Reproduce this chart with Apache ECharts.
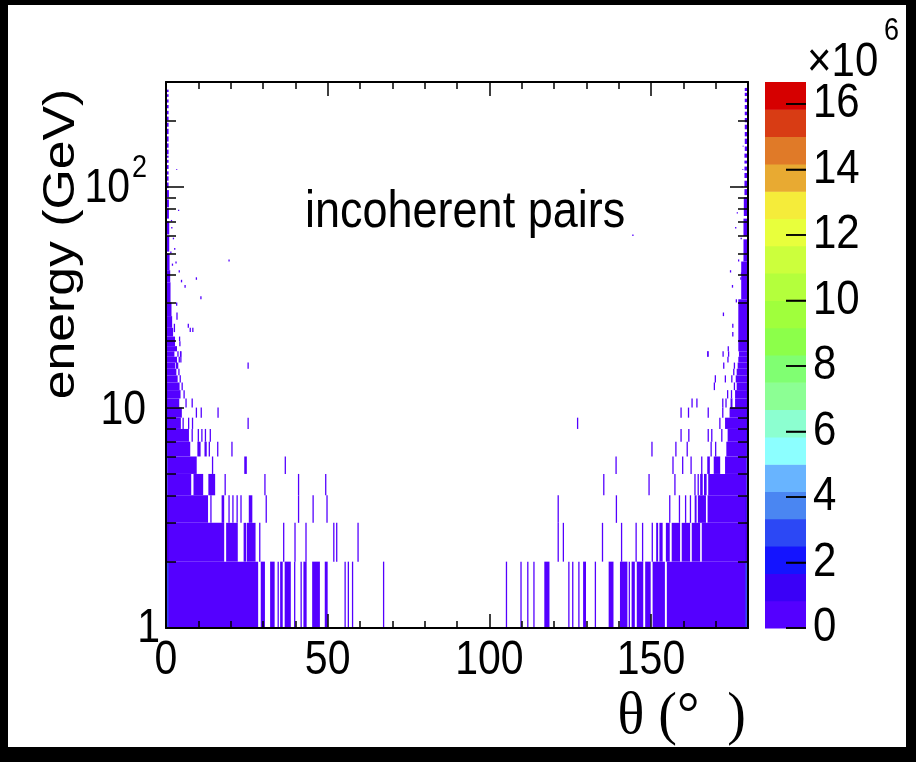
<!DOCTYPE html>
<html><head><meta charset="utf-8">
<script src="https://cdn.jsdelivr.net/npm/echarts@6/dist/echarts.min.js"></script>
<style>html,body{margin:0;padding:0;background:#000;} #c{width:916px;height:762px;}</style>
</head><body><div id="c"></div>
<script>
// ---------------- data ----------------
const thetaBin = 0.4;          // width of one θ bin (deg)
const lowCount = 4e5;          // count of an ordinary populated cell (lowest colour class)
const zMax = 16.67e6;          // top of the colour scale
const nLevels = 20;
const paletteColors = ['#5400ff','#3a00f7','#1414ff','#2c48f5','#4a86f2','#68b4ff','#8cffff','#8cffd0','#8cff94','#80ff72',
                       '#8cff4a','#a0ff3c','#b4ff3c','#ccff3c','#e8ff3c','#f5ec3a','#e8aa32','#e07a28','#d83c14','#d60000'];
const xMajorTicks = [0, 50, 100, 150];
const xMinorTicks = [10,20,30,40,60,70,80,90,110,120,130,140,160,170];
const yMajorTicks = [1, 10, 100];
const yMinorTicks = [2,3,4,5,6,7,8,9,20,30,40,50,60,70,80,90,200];
const zTicks = [0, 2, 4, 6, 8, 10, 12, 14, 16];   // ×10^6

// filled runs: [θ0, θ1, E0, E1]
const leftBlocks = [
 [0,28.5,1,2],[29.3,30.6,1,2],[32.2,33.6,1,2],[35.3,36.1,1,2],[36.7,38.6,1,2],[42.5,43.5,1,2],[45.2,47.6,1,2],[49.1,50.0,1,2],
 [0,18.0,2,3],[18.6,22.2,2,3],[24.0,24.8,2,3],[25.0,27.7,2,3],
 [0,13.0,3,4],[17.2,18.0,3,4],[25.6,26.7,3,4],
 [0,7.8,4,5],[8.5,11.5,4,5],[13.1,15.2,4,5],
 [0,9.5,5,6],[24.2,25.0,5,6],
 [0,7.5,6,7],[9.7,10.7,6,7],[11.9,12.6,6,7],
 [0,7.1,7,8],[0,4.6,8,9],[0,4.9,9,10],[0,4.1,10,11],[0,4.5,11,12],[0,4.2,12,13],[0,3.6,13,14],
 [0,3.2,14,15],[0,2.8,15,16],[0,3.2,16,17],[0,2.6,17,18],[0,3.4,18,19],[0,2.8,19,21],[0,2.2,21,23],
 [0,1.9,23,26],[0,1.7,26,30],[0,1.4,30,37],[0,1.3,37,42],[0,1.1,42,50],[0,1.0,51,60],[0,1.0,61,70],[0,0.9,72,80],
 [0,0.9,81,88],[0,0.9,90,97],[0,0.8,99,105],[0,0.8,107,112],[0,0.8,114,118],[0,0.8,121,126],[0,0.8,129,133],[0,0.8,136,139],
 [0,0.8,141,148],[0,0.8,151,158],[0,0.8,161,170],[0,0.8,174,184],[0,0.8,188,196],[0,0.8,201,209],[0,0.8,214,222],
 [0,0.8,228,236],[0,0.8,242,250],[0,0.8,257,264],[0,0.8,270,277]
];
// single-bin lines: [θ, E0, E1]
const leftLines = [
 [34.5,1,2],[39.6,1,2],[41.6,1,2],[55.2,1,2],[56.2,1,2],[57.5,1,2],[67.1,1,2],
 [28.8,2,3],[36.2,2,3],[39.7,2,3],[43.1,2,3],[51.7,2,3],[52.6,2,3],[59.2,2,3],
 [13.7,3,4],[19.3,3,4],[20.5,3,4],[21.8,3,4],[23.0,3,4],[30.8,3,4],[40.8,3,4],[45.3,3,4],[49.6,3,4],
 [18.1,4,5],[30.4,4,5],[40.8,4,5],[49.2,4,5],
 [14.2,5,6],[36.7,5,6],
 [13.2,6,7],[15.8,6,7],[20.2,6,7],
 [7.9,7,8],[9.8,7,8],[10.9,7,8],[12.0,7,8],[13.5,7,8],
 [5.1,8,9],[6.8,8,9],[8.0,8,9],[25.2,8,9],
 [9.2,9,10],[10.7,9,10],[15.9,9,10],
 [6.0,10,11],[7.9,10,11],[5.4,11,12],[4.8,12,13],[4.2,13,14],[3.8,14,15],[3.4,15,16],[25.2,15,16],
 [3.9,16,17],[3.5,17,18],[4.3,17,18],
 [3.1,120,121],[3.7,78,79],[1.6,65,66],[2.1,58,59],[2.5,52,53],[2.9,45,46],[19.3,46,47],[3.9,41,42],
 [9.2,38,39],[4.6,37,38],[5.7,35,36],[10.6,31,32],[3.1,29,30],[3.2,25,27],[6.7,23,24],[7.3,22,23],
 [8.1,22,23],[2.4,22,24],[4.0,20,21],[4.1,19,20],[4.4,16,18],[3.0,15,17],[1.3,50,51],[1.8,44,45],[1.5,70,71]
];
const rightBlocks = [
 [117.0,118.6,1,2],[129.0,129.9,1,2],[136.9,138.4,1,2],[140.4,142.7,1,2],[144.0,145.0,1,2],[145.6,147.6,1,2],
 [148.2,149.9,1,2],[150.5,154.3,1,2],[154.9,180,1,2],
 [151.6,152.2,2,3],[152.6,153.6,2,3],[154.6,155.8,2,3],[156.4,159.0,2,3],[159.5,162.1,2,3],[162.6,165.2,2,3],[165.7,180,2,3],
 [163.5,164.1,3,4],[164.5,167.0,3,4],[167.5,180,3,4],
 [165.2,166.0,4,5],[166.4,167.2,4,5],[167.7,180,4,5],
 [167.4,168.2,5,6],[169.4,171.4,5,6],[172.9,180,5,6],
 [173.3,180,6,7],[173.7,180,7,8],[172.9,180,8,9],[174.3,180,9,10],[174.6,175.2,10,11],[176.0,180,10,11],
 [176.0,180,11,12],[176.5,180,12,13],[176.2,180,13,14],[176.5,180,14,15],[176.8,180,15,16],[177.0,180,16,17],
 [177.2,180,17,18],[177.0,180,18,31],[177.9,180,31,46],[178.6,180,46,58],[178.6,180,60,72],[178.7,180,74,90],
 [178.9,180,92,98],[178.9,180,100,107],[178.9,180,110,116],[178.9,180,119,124],[178.9,180,128,132],[178.9,180,136,142],
 [179.0,180,146,153],[179.0,180,157,166],[179.0,180,170,178],[179.0,180,183,192],[179.0,180,197,206],
 [179.0,180,212,220],[179.0,180,226,236],[179.0,180,243,252],[179.0,180,259,268],[179.0,180,273,282]
];
const rightLines = [
 [105.1,1,2],[109.6,1,2],[111.7,1,2],[113.6,1,2],[124.4,1,2],[125.6,1,2],[127.5,1,2],[132.6,1,2],[143.1,1,2],
 [121.1,2,3],[122.7,2,3],[134.8,2,3],[140.7,2,3],[145.2,2,3],[147.2,2,3],[150.2,2,3],
 [121.1,3,4],[139.1,3,4],[155.6,3,4],[158.6,3,4],[160.5,3,4],[162.0,3,4],
 [135.2,4,5],[149.2,4,5],[157.2,4,5],[163.4,4,5],[164.4,4,5],
 [139.0,5,6],[156.6,5,6],[159.6,5,6],[162.2,5,6],[165.5,5,6],
 [150.1,6,7],[157.5,6,7],[161.0,6,7],[168.4,6,7],[169.8,6,7],
 [159.1,7,8],[161.5,7,8],[167.5,7,8],[168.6,7,8],[171.7,7,8],
 [127.1,8,9],[171.1,8,9],
 [159.1,9,10],[161.4,9,10],[167.5,9,10],[172.0,9,10],
 [162.5,10,11],[164.0,10,11],[172.0,10,11],[173.0,10,11],
 [173.5,11,12],[174.7,11,12],[169.4,12,13],[175.6,12,13],[169.7,13,14],[172.8,13,14],[174.8,13,14],
 [175.4,14,15],[172.3,15,16],[175.6,15,16],[173.6,16,17],[167.4,17,18],[172.1,17,18],[173.8,17,18],[173.7,18,19],
 [178.3,153,154],[176.5,76,77],[176.0,65,66],[177.7,58,59],[176.9,46,47],[174.4,41,42],[175.0,35,36],
 [177.6,38,39],[177.8,40,41],[172.2,26,27],[175.1,21,22],[175.1,23,24],[144.2,60,61],[167.4,17,18],
 [176.2,30,31],[178.0,100,101],[178.2,120,121]
];
// well-filled cells at the edges: [θ0, θ1, E0, E1, count]
const edgeCells = [
 [0,0.4,1,2,4.6e6],[0,0.4,2,3,16.4e6],[0,0.4,3,4,9.6e6],[0,0.4,4,5,4.6e6],[0,0.4,5,6,4.2e6],
 [0,0.4,6,7,3.0e6],[0,0.4,7,8,2.4e6],[0,0.4,8,10,1.8e6],[0,0.4,10,13,1.2e6],
 [0.4,0.8,1,2,2.9e6],[0.4,0.8,2,4,1.3e6],
 [179.6,180,1,2,4.6e6],[179.6,180,2,3,16.4e6],[179.6,180,3,4,9.6e6],[179.6,180,4,5,4.6e6],[179.6,180,5,6,4.2e6],
 [179.6,180,6,7,3.0e6],[179.6,180,7,8,2.4e6],[179.6,180,8,10,1.8e6],[179.6,180,10,13,1.2e6],
 [179.2,179.6,1,2,2.9e6],[179.2,179.6,2,4,1.3e6]
];

// ---------------- build cells ----------------
const cells = [];
[leftBlocks, rightBlocks].forEach(a => a.forEach(b => cells.push([b[0], b[1], b[2], b[3], lowCount])));
[leftLines, rightLines].forEach(a => a.forEach(l => cells.push([l[0], l[0] + thetaBin, l[1], l[2], lowCount])));
edgeCells.forEach(c => cells.push(c.slice()));

const step = zMax / nLevels;
function colorOf(v) { return paletteColors[Math.max(0, Math.min(nLevels - 1, Math.floor(v / step)))]; }
const levels = paletteColors.map((c, i) => [i * step, (i + 1) * step]);

const FONT = '"Liberation Sans"';
const K = 1.15;                      // vertical stretch of the lettering in the original picture
const axisBlack = {color: '#000', width: 2};
function xAx(pos, ticks, len, line) {
  return {type: 'value', gridIndex: 0, position: pos, min: 0, max: 180, z: 20,
    axisLine: {show: line, onZero: false, lineStyle: axisBlack},
    axisTick: {show: true, inside: true, length: len, customValues: ticks, lineStyle: {color: '#000', width: 1.5}},
    axisLabel: {show: false}, splitLine: {show: false}};
}
function yAx(pos, ticks, len, line) {
  return {type: 'log', logBase: 10, gridIndex: 0, position: pos, min: 1, max: 300, z: 20,
    axisLine: {show: line, onZero: false, lineStyle: axisBlack},
    axisTick: {show: true, inside: true, length: len, customValues: ticks, lineStyle: {color: '#000', width: 1.5}},
    axisLabel: {show: false}, splitLine: {show: false}};
}
function txt(text, x, y, size, align, opts) {
  return Object.assign({type: 'text', z: 100, x: x, y: y, scaleY: K, silent: true,
    style: {text: text, font: size + 'px ' + FONT, fill: '#000', textAlign: align, textVerticalAlign: 'middle'}}, opts || {});
}

const chart = echarts.init(document.getElementById('c'), null, {renderer: 'canvas'});
chart.setOption({
  backgroundColor: '#000',
  animation: false,
  grid: [
    {left: 166, top: 82, width: 582, height: 546, containLabel: false},
    {left: 765, top: 82, width: 41, height: 546, containLabel: false}
  ],
  xAxis: [
    xAx('bottom', xMajorTicks, 14, true),
    xAx('bottom', xMinorTicks, 7, false),
    xAx('top', xMajorTicks, 14, true),
    xAx('top', xMinorTicks, 7, false),
    {type: 'value', gridIndex: 1, min: 0, max: 1, show: false}
  ],
  yAxis: [
    yAx('left', yMajorTicks, 18, true),
    yAx('left', yMinorTicks, 10, false),
    yAx('right', yMajorTicks, 18, true),
    yAx('right', yMinorTicks, 10, false),
    {type: 'value', gridIndex: 1, position: 'right', min: 0, max: zMax, z: 20,
     axisLine: {show: false, onZero: false},
     axisTick: {show: true, inside: true, length: 20, customValues: zTicks.map(t => t * 1e6), lineStyle: {color: '#000', width: 1.5}},
     axisLabel: {show: false}, splitLine: {show: false}}
  ],
  series: [
    {type: 'custom', name: 'incoherent pairs', xAxisIndex: 0, yAxisIndex: 0, z: 1, clip: true,
     data: cells,
     renderItem: (params, api) => {
       const p0 = api.coord([api.value(0), api.value(3)]);
       const p1 = api.coord([api.value(1), api.value(2)]);
       return {type: 'rect', shape: {x: p0[0], y: p0[1], width: p1[0] - p0[0], height: p1[1] - p0[1]},
               style: {fill: colorOf(api.value(4))}};
     }},
    {type: 'custom', name: 'colour scale', xAxisIndex: 4, yAxisIndex: 4, z: 1,
     data: levels,
     renderItem: (params, api) => {
       const p0 = api.coord([0, api.value(1)]);
       const p1 = api.coord([1, api.value(0)]);
       return {type: 'rect', shape: {x: p0[0], y: p0[1], width: p1[0] - p0[0], height: p1[1] - p0[1] + 0.5},
               style: {fill: paletteColors[params.dataIndex]}};
     }},
    {type: 'custom', name: 'colour scale ticks', xAxisIndex: 4, yAxisIndex: 4, z: 5, silent: true,
     data: zTicks.map(t => [t * 1e6]),
     renderItem: (params, api) => {
       const a = api.coord([1, api.value(0)]);
       return {type: 'line', shape: {x1: a[0] - 20, y1: a[1], x2: a[0], y2: a[1]}, style: {stroke: '#000', lineWidth: 1.5}};
     }}
  ]
});

// tick labels and titles as text, placed through the axes' own scales
const px = (x, y) => chart.convertToPixel({xAxisIndex: 0, yAxisIndex: 0}, [x, y]);
const pz = v => chart.convertToPixel({xAxisIndex: 4, yAxisIndex: 4}, [1, v]);
const g = [{type: 'rect', z: -100, silent: true, shape: {x: 8, y: 5, width: 898, height: 742}, style: {fill: '#fff'}}];
xMajorTicks.forEach(v => { const p = px(v, 1); g.push(txt(String(v), p[0], p[1] + 33, 41, 'center')); });
yMajorTicks.forEach(v => {
  const p = px(0, v);
  if (v === 1) g.push(txt('1', p[0] - 6, p[1] + 1, 41, 'right'));
  else if (v === 10) g.push(txt('10', p[0] - 20, p[1] + 3, 41, 'right'));
  else { g.push(txt('10', p[0] - 36, p[1] + 2, 41, 'right')); g.push(txt('2', p[0] - 34, p[1] - 19, 27, 'left')); }
});
zTicks.forEach(t => { const p = pz(t * 1e6); g.push(txt(String(t), p[0] + 7, p[1], 42, 'left')); });
g.push(txt('energy (GeV)', 62, 244, 45, 'center', {rotation: Math.PI / 2, scaleX: K, scaleY: 1}));
g.push(txt('incoherent pairs', 305, 213, 45, 'left'));
g.push(Object.assign(txt('θ (°  )', 746, 717, 56, 'right'), {scaleY: 1.06, style: {text: 'θ (°  )', font: '56px "Liberation Serif"', fill: '#000', textAlign: 'right', textVerticalAlign: 'middle'}}));
g.push(txt('×10', 807, 63, 42, 'left'));
g.push(txt('6', 884, 31, 27, 'left'));
chart.setOption({graphic: {elements: g}});
</script></body></html>
